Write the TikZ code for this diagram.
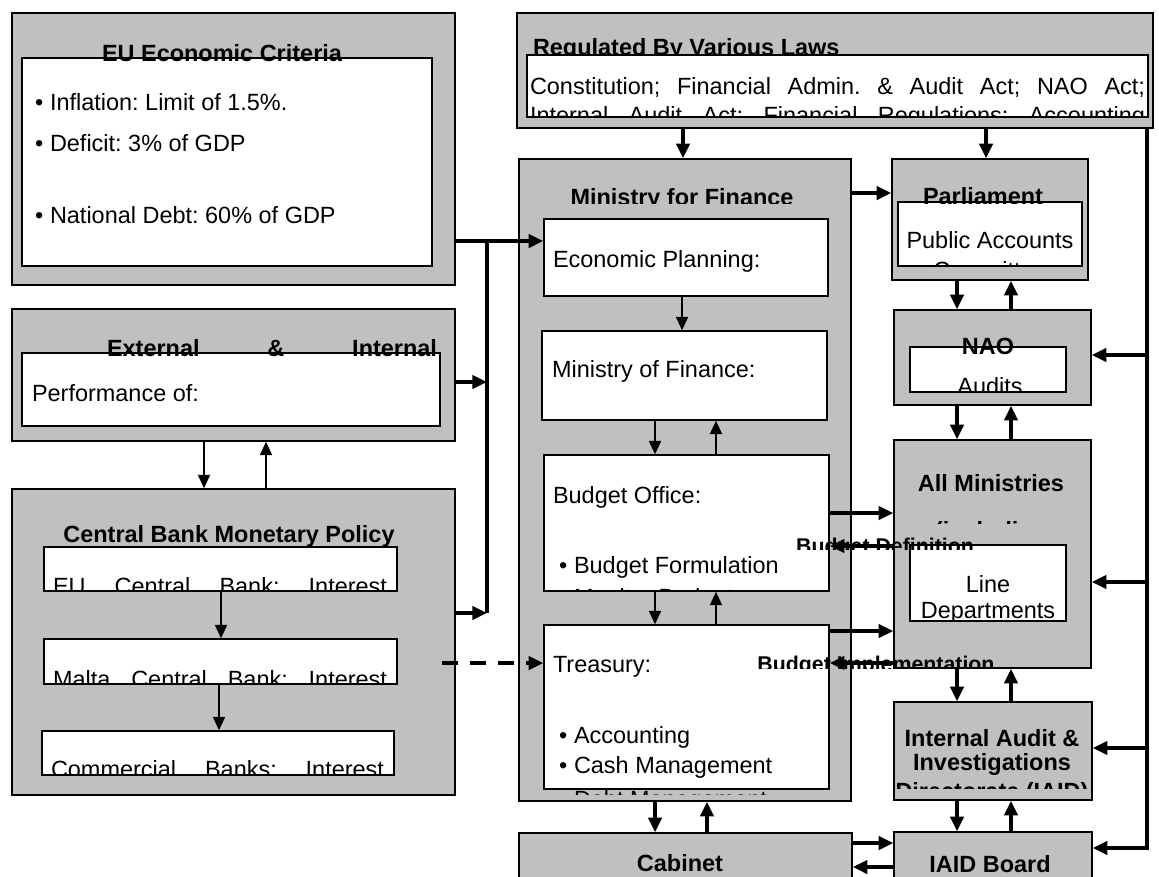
\documentclass[tikz,border=0pt]{standalone}
\usepackage{fontspec}
\setmainfont{Liberation Sans}
\usetikzlibrary{arrows.meta,fit}
\definecolor{boxgray}{HTML}{C0C0C0}
\newlength\pxu \setlength\pxu{0.75pt}
\newcommand\jline[2]{\makebox[#1\pxu][s]{#2}}
\frenchspacing
\begin{document}
\frenchspacing
\begin{tikzpicture}[x=0.75pt,y=-0.75pt,
  graybox/.style={draw=black, line width=1.1pt, fill=boxgray, inner sep=0pt},
  whitebox/.style={draw=black, line width=1.1pt, fill=white, inner sep=0pt},
  txt/.style={inner sep=0pt, outer sep=0pt, anchor=base west, font=\fontsize{17.6}{21}\selectfont},
  ctxt/.style={txt, anchor=base},
  btxt/.style={txt, font=\fontsize{17.6}{21}\selectfont\bfseries},
  cbtxt/.style={btxt, anchor=base},
  lbl/.style={inner sep=0pt, outer sep=0pt, anchor=base, font=\fontsize{16}{19}\selectfont\bfseries},
  thk/.style={line width=2.5pt, -{Triangle[length=11pt,width=10pt]}},
  thkline/.style={line width=2.5pt},
  thn/.style={line width=1.2pt, -{Triangle[length=10pt,width=9pt]}},
  dsh/.style={line width=2.5pt, dash pattern=on 12pt off 9pt, -{Triangle[length=11pt,width=10pt]}}
]
\useasboundingbox (0,0) rectangle (1159,876);
\fill[white] (0,0) rectangle (1159,876);

% ---------- Regulated By Various Laws ----------
\node[graybox, fit={(517,13) (1153,128)}] (regul) {};
\node[whitebox, fit={(527,55) (1148,117)}] (regin) {};
\begin{scope}
\clip (517,13) rectangle (1153,55);
\node[btxt] (regT) at (533,55) {Regulated By Various Laws};
\end{scope}
\begin{scope}
\clip (527,55) rectangle (1148,117);
\node[txt] (reg1) at (530,94) {\jline{615}{Constitution; Financial Admin. \& Audit Act; NAO Act;}};
\node[txt] (reg2) at (530,123) {\jline{615}{Internal Audit Act; Financial Regulations; Accounting}};
\end{scope}

% ---------- EU Economic Criteria ----------
\node[graybox, fit={(12,13) (455,285)}] (eu) {};
\node[whitebox, fit={(22,58) (432,266)}] (euin) {};
\begin{scope}
\clip (12,13) rectangle (455,62);
\node[cbtxt] (euT) at (222,61) {EU Economic Criteria};
\end{scope}
\node[txt] (euB1) at (35,110) {\textbullet};
\node[txt] (euL1) at (50,110) {Inflation: Limit of 1.5\%.};
\node[txt] (euB2) at (35,151) {\textbullet};
\node[txt] (euL2) at (50,151) {Deficit: 3\% of GDP};
\node[txt] (euB3) at (35,223) {\textbullet};
\node[txt] (euL3) at (50,223) {National Debt: 60\% of GDP};

% ---------- External & Internal ----------
\node[graybox, fit={(12,309) (455,441)}] (ext) {};
\node[whitebox, fit={(22,353) (440,426)}] (extin) {};
\begin{scope}
\clip (12,309) rectangle (455,356);
\node[btxt] (extT) at (107,356) {\jline{330}{External \& Internal}};
\end{scope}
\node[txt] (extP) at (32,401) {Performance of:};

% ---------- Central Bank Monetary Policy ----------
\node[graybox, fit={(12,489) (455,795)}] (cbank) {};
\node[cbtxt] (cbT) at (229,542) {Central Bank Monetary Policy};
\node[whitebox, fit={(44,547) (397,591)}] (cb1) {};
\node[whitebox, fit={(44,639) (397,684)}] (cb2) {};
\node[whitebox, fit={(42,731) (394,775)}] (cb3) {};
\begin{scope}
\clip (44,547) rectangle (397,591);
\node[txt] (cb1T) at (53,594) {\jline{334}{EU Central Bank: Interest}};
\end{scope}
\begin{scope}
\clip (44,639) rectangle (397,684);
\node[txt] (cb2T) at (53,687) {\jline{334}{Malta Central Bank: Interest}};
\end{scope}
\begin{scope}
\clip (42,731) rectangle (394,775);
\node[txt] (cb3T) at (51,777) {\jline{333}{Commercial Banks: Interest}};
\end{scope}

% ---------- Ministry for Finance ----------
\node[graybox, fit={(519,159) (851,801)}] (minfin) {};
\begin{scope}
\clip (519,159) rectangle (851,203);
\node[cbtxt] (mfT) at (682,205) {Ministry for Finance};
\end{scope}
\node[whitebox, fit={(544,219) (828,296)}] (econ) {};
\node[txt] (econT) at (553,267) {Economic Planning:};
\node[whitebox, fit={(542,331) (827,420)}] (mof) {};
\node[txt] (mofT) at (552,377) {Ministry of Finance:};
\node[whitebox, fit={(544,455) (829,591)}] (budget) {};
\begin{scope}
\clip (544,455) rectangle (829,591);
\node[txt] (budT) at (553,503) {Budget Office:};
\node[txt] (budB1) at (559,573) {\textbullet};
\node[txt] (budL1) at (574,573) {Budget Formulation};
\node[txt] (budB2) at (559,605) {\textbullet};
\node[txt] (budL2) at (574,605) {Monitor Budget};
\end{scope}
\node[whitebox, fit={(544,625) (829,789)}] (treas) {};
\begin{scope}
\clip (544,625) rectangle (829,794);
\node[txt] (trT) at (553,672) {Treasury:};
\node[txt] (trB1) at (559,743) {\textbullet};
\node[txt] (trL1) at (574,743) {Accounting};
\node[txt] (trB2) at (559,773) {\textbullet};
\node[txt] (trL2) at (574,773) {Cash Management};
\node[txt] (trB3) at (559,807) {\textbullet};
\node[txt] (trL3) at (574,807) {Debt Management};
\end{scope}

% ---------- Cabinet ----------
\node[graybox, fit={(519,833) (852,900)}] (cabinet) {};
\node[cbtxt] (cabT) at (680,871) {Cabinet};

% ---------- Parliament ----------
\node[graybox, fit={(892,159) (1088,280)}] (parl) {};
\node[whitebox, fit={(898,202) (1082,266)}] (parlin) {};
\begin{scope}
\clip (892,159) rectangle (1088,203);
\node[cbtxt] (parlT) at (983,204) {Parliament};
\end{scope}
\begin{scope}
\clip (898,202) rectangle (1082,266);
\node[ctxt] (pac1) at (990,248) {Public Accounts};
\node[ctxt] (pac2) at (990,278) {Committee};
\end{scope}

% ---------- NAO ----------
\node[graybox, fit={(894,310) (1091,405)}] (nao) {};
\node[whitebox, fit={(910,347) (1066,392)}] (naoin) {};
\node[cbtxt] (naoT) at (988,354) {NAO};
\begin{scope}
\clip (910,347) rectangle (1066,392);
\node[ctxt] (naoA) at (990,394) {Audits};
\end{scope}

% ---------- All Ministries ----------
\node[graybox, fit={(894,440) (1091,668)}] (allmin) {};
\node[cbtxt] (allT) at (991,491) {All Ministries};
\begin{scope}
\clip (894,440) rectangle (1091,523);
\node[cbtxt] (allT2) at (991,538) {(including};
\end{scope}
\node[whitebox, fit={(910,545) (1066,621)}] (linedep) {};
\begin{scope}
\clip (910,545) rectangle (1066,621);
\node[ctxt] (ld1) at (988,592) {Line};
\node[ctxt] (ld2) at (988,618) {Departments};
\end{scope}

% ---------- Internal Audit ----------
\node[graybox, fit={(894,702) (1092,800)}] (iad) {};
\node[cbtxt] (iad1) at (992,746) {Internal Audit \&};
\node[cbtxt] (iad2) at (992,770) {Investigations};
\begin{scope}
\clip (894,702) rectangle (1092,788);
\node[cbtxt] (iad3) at (992,799) {Directorate (IAID)};
\end{scope}

% ---------- IAID Board ----------
\node[graybox, fit={(894,832) (1092,900)}] (iaid) {};
\node[cbtxt] (iaidT) at (990,872) {IAID Board};

% ---------- labels ----------
\begin{scope}
\clip (780,520) rectangle (1000,549);
\node[lbl] (lblDef) at (885,553) {Budget Definition};
\end{scope}
\begin{scope}
\clip (740,640) rectangle (1000,668);
\node[lbl] (lblImp) at (876,671) {Budget Implementation};
\end{scope}

% ---------- connectors ----------
\draw[thk] (regul.south -| 683,0) -- (minfin.north -| 683,0);
\draw[thk] (regul.south -| 986,0) -- (parl.north -| 986,0);
\draw[thk] (minfin.east |- 0,193) -- (parl.west |- 0,193);
\draw[thk] (eu.east |- 0,241) -- (econ.west |- 0,241);
\coordinate (busT) at (487,241);
\coordinate (busB) at (487,613);
\draw[thkline] (busT) -- (busB);
\draw[thk] (ext.east |- 0,382) -- (busT |- 0,382);
\draw[thk] (cbank.east |- busB) -- (busB);
\coordinate (dS) at (442,663);
\draw[dsh] (dS) -- (treas.west |- dS);
\draw[thk] (minfin.south -| 655,0) -- (cabinet.north -| 655,0);
\draw[thk] (cabinet.north -| 707,0) -- (minfin.south -| 707,0);
\draw[thk] (budget.east |- 0,513) -- (allmin.west |- 0,513);
\draw[thk] (treas.east |- 0,631) -- (allmin.west |- 0,631);
\draw[thk] (allmin.west |- 0,546) -- (budget.east |- 0,546);
\draw[thk] (allmin.west |- 0,663) -- (treas.east |- 0,663);
\draw[thk] (parl.south -| 957,0) -- (nao.north -| 957,0);
\draw[thk] (nao.north -| 1011,0) -- (parl.south -| 1011,0);
\draw[thk] (nao.south -| 957,0) -- (allmin.north -| 957,0);
\draw[thk] (allmin.north -| 1011,0) -- (nao.south -| 1011,0);
\draw[thk] (allmin.south -| 957,0) -- (iad.north -| 957,0);
\draw[thk] (iad.north -| 1011,0) -- (allmin.south -| 1011,0);
\draw[thk] (iad.south -| 957,0) -- (iaid.north -| 957,0);
\draw[thk] (iaid.north -| 1011,0) -- (iad.south -| 1011,0);
\draw[thk] (cabinet.east |- 0,843) -- (iaid.west |- 0,843);
\draw[thk] (iaid.west |- 0,867) -- (cabinet.east |- 0,867);
\coordinate (railT) at (1147,128);
\draw[thk] (railT) |- (iaid.east |- 0,848);
\draw[thk] (railT |- 0,355) -- (nao.east |- 0,355);
\draw[thk] (railT |- 0,582) -- (allmin.east |- 0,582);
\draw[thk] (railT |- 0,748) -- (iad.east |- 0,748);
% thin
\draw[thn] (econ.south -| 682,0) -- (mof.north -| 682,0);
\draw[thn] (mof.south -| 655,0) -- (budget.north -| 655,0);
\draw[thn] (budget.north -| 716,0) -- (mof.south -| 716,0);
\draw[thn] (budget.south -| 655,0) -- (treas.north -| 655,0);
\draw[thn] (treas.north -| 716,0) -- (budget.south -| 716,0);
\draw[thn] (ext.south -| 204,0) -- (cbank.north -| 204,0);
\draw[thn] (cbank.north -| 266,0) -- (ext.south -| 266,0);
\draw[thn] (cb1.south -| 221,0) -- (cb2.north -| 221,0);
\draw[thn] (cb2.south -| 219,0) -- (cb3.north -| 219,0);
\end{tikzpicture}
\end{document}
